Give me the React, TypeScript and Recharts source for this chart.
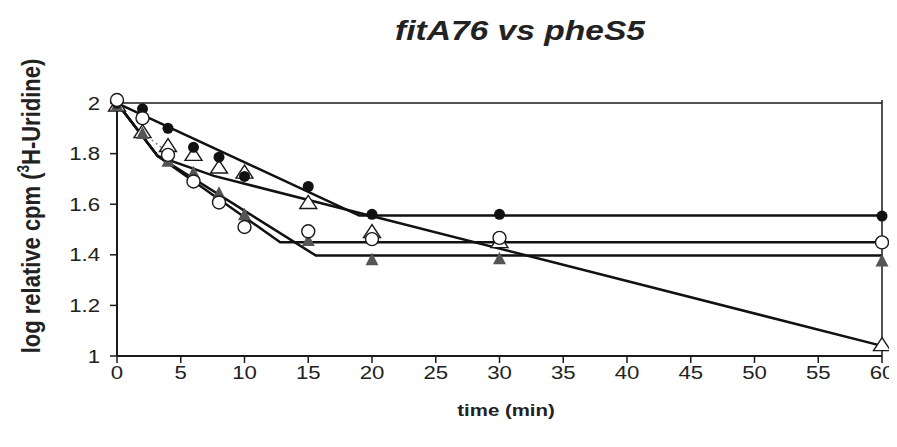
import React from 'react'
import {
  ComposedChart,
  Line,
  Scatter,
  XAxis,
  YAxis,
  ReferenceLine,
} from 'recharts'

// sampling times (min)
const times = [0, 2, 4, 6, 8, 10, 15, 20, 30, 60]

// measured values, log relative cpm
const filledCircles = [2.0, 1.977, 1.9, 1.825, 1.786, 1.71, 1.67, 1.56, 1.56, 1.553]
const openCircles = [2.012, 1.94, 1.795, 1.69, 1.607, 1.51, 1.493, 1.462, 1.467, 1.449]
const openTriangles = [1.99, 1.885, 1.83, 1.795, 1.745, 1.725, 1.605, 1.49, 1.45, 1.043]
const filledTriangles = [1.99, 1.88, 1.77, 1.724, 1.643, 1.558, 1.457, 1.38, 1.384, 1.376]

// fitted trend lines (break points)
const fitFilledCircleX = [0, 19, 60]
const fitFilledCircleY = [2.0, 1.555, 1.555]
const fitOpenTriangleX = [0, 3.2, 7.6, 60]
const fitOpenTriangleY = [2.0, 1.79, 1.712, 1.04]
const fitOpenCircleX = [0, 3.2, 12.8, 60]
const fitOpenCircleY = [2.0, 1.79, 1.45, 1.45]
const fitFilledTriangleX = [0, 3.2, 15.6, 60]
const fitFilledTriangleY = [2.0, 1.79, 1.397, 1.397]
const dottedX = [1.8, 3.6]
const dottedY = [1.89, 1.82]

const xTicks = [0, 5, 10, 15, 20, 25, 30, 35, 40, 45, 50, 55, 60]
const yTicks = [1, 1.2, 1.4, 1.6, 1.8, 2]

const FONT = "Arial, 'Liberation Sans', sans-serif"
const INK = '#1a1a1a'

const toPoints = (xs: number[], ys: number[]) => xs.map((x, i) => ({ x, y: ys[i] }))

const XTick = ({ x, y, payload }: any) => (
  <text
    transform={`translate(${x},${y}) scale(1.2,1)`}
    textAnchor="middle"
    dy="0.71em"
    fontSize={18.5}
    fontFamily={FONT}
    fill="#222"
  >
    {payload.value}
  </text>
)

const YTick = ({ x, y, payload }: any) => (
  <text
    transform={`translate(${x},${y}) scale(1.2,1)`}
    textAnchor="end"
    dy="0.355em"
    fontSize={18.5}
    fontFamily={FONT}
    fill="#222"
  >
    {payload.value}
  </text>
)

const OpenCircle = ({ cx, cy }: any) => (
  <circle cx={cx} cy={cy} r={6.5} fill="#fff" stroke={INK} strokeWidth={1.4} />
)
const FilledCircle = ({ cx, cy }: any) => <circle cx={cx} cy={cy} r={5.5} fill="#111" />
const OpenTriangle = ({ cx, cy }: any) => (
  <polygon
    points={`${cx},${cy - 7.5} ${cx - 8.5},${cy + 5.5} ${cx + 8.5},${cy + 5.5}`}
    fill="#fff"
    stroke={INK}
    strokeWidth={1.4}
  />
)
const FilledTriangle = ({ cx, cy }: any) => (
  <polygon
    points={`${cx},${cy - 7} ${cx - 6.5},${cy + 5.5} ${cx + 6.5},${cy + 5.5}`}
    fill="#555"
  />
)

export default function App() {
  const fitLines = [
    toPoints(fitFilledCircleX, fitFilledCircleY),
    toPoints(fitOpenTriangleX, fitOpenTriangleY),
    toPoints(fitOpenCircleX, fitOpenCircleY),
    toPoints(fitFilledTriangleX, fitFilledTriangleY),
  ]

  return (
    <div style={{ position: 'relative', width: 889, height: 439 }}>
      <style>{'.recharts-surface { overflow: visible; }'}</style>
      <ComposedChart
        width={889}
        height={439}
        margin={{ top: 92, right: 15, bottom: 51, left: 49 }}
      >
        <XAxis
          type="number"
          dataKey="x"
          domain={[0, 60]}
          ticks={xTicks}
          height={40}
          tickSize={7}
          tickMargin={3}
          tick={<XTick />}
          axisLine={{ stroke: INK, strokeWidth: 2 }}
          tickLine={{ stroke: INK, strokeWidth: 1.5 }}
        />
        <YAxis
          type="number"
          dataKey="y"
          domain={[1, 2]}
          ticks={yTicks}
          width={60}
          tickSize={7}
          tickMargin={10}
          tick={<YTick />}
          axisLine={{ stroke: INK, strokeWidth: 2 }}
          tickLine={{ stroke: INK, strokeWidth: 1.5 }}
        />
        <ReferenceLine y={2} stroke={INK} strokeWidth={1.5} />
        <ReferenceLine x={60} stroke={INK} strokeWidth={1.5} />

        {fitLines.map((pts, i) => (
          <Line
            key={i}
            data={pts}
            dataKey="y"
            type="linear"
            stroke="#111"
            strokeWidth={2.5}
            dot={false}
            activeDot={false}
            isAnimationActive={false}
          />
        ))}
        <Line
          data={toPoints(dottedX, dottedY)}
          dataKey="y"
          type="linear"
          stroke="#888"
          strokeWidth={1.5}
          strokeDasharray="2 3"
          dot={false}
          activeDot={false}
          isAnimationActive={false}
        />

        <Scatter data={toPoints(times, openTriangles)} dataKey="y" shape={<OpenTriangle />} isAnimationActive={false} />
        <Scatter data={toPoints(times, filledTriangles)} dataKey="y" shape={<FilledTriangle />} isAnimationActive={false} />
        <Scatter data={toPoints(times, filledCircles)} dataKey="y" shape={<FilledCircle />} isAnimationActive={false} />
        <Scatter data={toPoints(times, openCircles)} dataKey="y" shape={<OpenCircle />} isAnimationActive={false} />
      </ComposedChart>

      {/* titles */}
      <svg
        width={889}
        height={439}
        style={{ position: 'absolute', left: 0, top: 0, pointerEvents: 'none' }}
      >
        <text
          transform="translate(512,32) scale(1.2,1)"
          textAnchor="middle"
          fontSize={28}
          fontWeight="bold"
          fontStyle="italic"
          fontFamily={FONT}
          fill="#222"
        >
          fitA76 vs pheS5
        </text>
        <text
          transform="translate(498,408) scale(1.2,1)"
          textAnchor="middle"
          fontSize={17}
          fontWeight="bold"
          fontFamily={FONT}
          fill="#222"
        >
          time (min)
        </text>
        <text
          transform="translate(32,198) scale(1.2,1) rotate(-90)"
          textAnchor="middle"
          fontSize={22}
          fontWeight="bold"
          fontFamily={FONT}
          fill="#222"
        >
          log relative cpm (
          <tspan fontSize={13.5} dy={-9}>3</tspan>
          <tspan dy={9}>H-Uridine)</tspan>
        </text>
      </svg>
    </div>
  )
}
